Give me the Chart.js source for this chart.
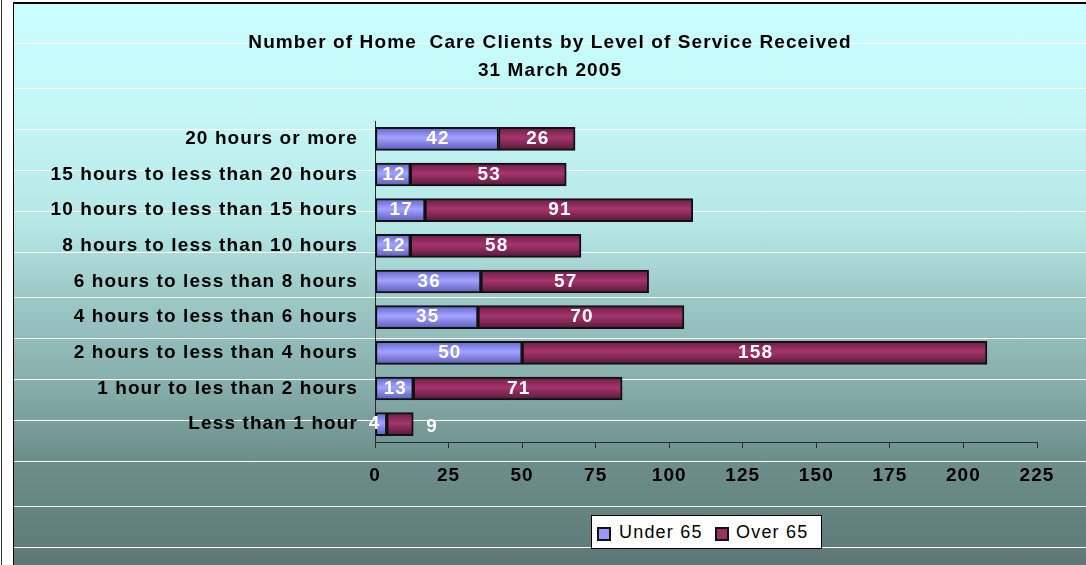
<!DOCTYPE html>
<html>
<head>
<meta charset="utf-8">
<script src="https://cdn.jsdelivr.net/npm/chart.js@4.4.0/dist/chart.umd.min.js"></script>
<style>
  body { margin: 0; background: #fff; width: 1086px; height: 565px; overflow: hidden; position: relative; font-family: "Liberation Sans", Arial, sans-serif; }
  #edge { position: absolute; left: 1px; top: 0; width: 1px; height: 565px; background: #333; }
  #panel {
    position: absolute; left: 13px; top: 2px; width: 1073px; height: 563px;
    border-left: 1px solid #000; border-top: 2px solid #000; box-sizing: border-box;
    background: linear-gradient(to bottom, #caffff 0%, #c3f6f5 20%, #b4e6e4 40%, #9cc9c6 52%, #86aeab 68%, #6e918e 80%, #5e7777 100%);
  }
  #chart { position: absolute; left: 0; top: 0; }
  #legend {
    position: absolute; left: 591px; top: 515px; width: 231px; height: 34px;
    background: #fff; border: 1px solid #000; box-sizing: border-box;
    font-size: 18px; letter-spacing: 1.2px; color: #000;
  }
  #legend .mk { position: absolute; top: 11px; width: 14px; height: 14px; border: 2px solid #111; box-sizing: border-box; }
  #legend .tx { position: absolute; top: 0; line-height: 32px; white-space: nowrap; }
</style>
</head>
<body>
<div id="edge"></div>
<div id="panel">
  <canvas id="chart" width="1072" height="561"></canvas>
</div>
<div id="legend">
  <span class="mk" style="left:5px; background:#9999ff"></span><span class="tx" style="left:27px">Under 65</span>
  <span class="mk" style="left:123px; background:#993366"></span><span class="tx" style="left:144px">Over 65</span>
</div>
<script>
const categories = [
  "20 hours or more",
  "15 hours to less than 20 hours",
  "10 hours to less than 15 hours",
  "8 hours to less than 10 hours",
  "6 hours to less than 8 hours",
  "4 hours to less than 6 hours",
  "2 hours to less than 4 hours",
  "1 hour to les than 2 hours",
  "Less than 1 hour"
];
const under65 = [42, 12, 17, 12, 36, 35, 50, 13, 4];
const over65 = [26, 53, 91, 58, 57, 70, 158, 71, 9];
const xTicks = [0, 25, 50, 75, 100, 125, 150, 175, 200, 225];

const titleLines = ["Number of Home  Care Clients by Level of Service Received", "31 March 2005"];
const font = "'Liberation Sans', Arial, sans-serif";

// white streaks across the background (page y positions)
const streaks = [43, 88, 129, 170, 211, 252, 297, 338, 379, 420, 461, 506, 547];

function barFill(c, dark, light, dark2) {
  let chart = c.chart;
  let y = chart.scales.y;
  if (!chart.chartArea || !y) return light;
  let mid = y.getPixelForValue(c.dataIndex);
  let g = chart.ctx.createLinearGradient(0, mid - 11.5, 0, mid + 11.5);
  g.addColorStop(0, dark);
  g.addColorStop(0.45, light);
  g.addColorStop(1, dark2);
  return g;
}

const spacing = {
  id: "spacing",
  beforeLayout(chart) { chart.ctx.letterSpacing = "1.1px"; },
  beforeDraw(chart) {
    let ctx = chart.ctx;
    ctx.letterSpacing = "1.1px";
    ctx.save();
    ctx.strokeStyle = "#ffffff";
    ctx.lineWidth = 1;
    streaks.forEach(function (py) {
      let y = py - 4 + 0.5;
      ctx.beginPath();
      ctx.moveTo(0, y);
      ctx.lineTo(chart.width, y);
      ctx.stroke();
    });
    ctx.restore();
  }
};

const barLabels = {
  id: "barLabels",
  afterDatasetsDraw(chart) {
    let ctx = chart.ctx;
    ctx.save();
    ctx.font = "bold 19px " + font;
    ctx.fillStyle = "#ffffff";
    ctx.textBaseline = "middle";
    chart.data.datasets.forEach(function (ds, di) {
      let meta = chart.getDatasetMeta(di);
      meta.data.forEach(function (bar, i) {
        let txt = String(ds.data[i]);
        let w = Math.abs(bar.x - bar.base);
        if (w < 30) {
          if (di === 0) {
            ctx.textAlign = "center";
            ctx.fillText(txt, bar.base - 1, bar.y);
          } else {
            ctx.textAlign = "left";
            ctx.fillText(txt, bar.x + 13, bar.y + 3);
          }
        } else {
          ctx.textAlign = "center";
          ctx.fillText(txt, (bar.x + bar.base) / 2 + 1, bar.y);
        }
      });
    });
    ctx.restore();
  }
};

new Chart(document.getElementById("chart"), {
  type: "bar",
  data: {
    labels: categories,
    datasets: [{
      label: "Under 65",
      data: under65,
      backgroundColor: function (c) { return barFill(c, "#6464c8", "#a2a2ff", "#5c5cb8"); },
      borderColor: "#111",
      borderWidth: 2,
      borderSkipped: false,
      barThickness: 23
    }, {
      label: "Over 65",
      data: over65,
      backgroundColor: function (c) { return barFill(c, "#6a1e44", "#a5346e", "#561838"); },
      borderColor: "#111",
      borderWidth: 2,
      borderSkipped: false,
      barThickness: 23
    }]
  },
  options: {
    indexAxis: "y",
    responsive: false,
    animation: false,
    layout: { padding: { left: 0, right: 0, top: 0, bottom: 73 } },
    plugins: {
      legend: { display: false },
      tooltip: { enabled: false },
      title: {
        display: true,
        text: titleLines,
        color: "#000",
        font: { family: font, size: 19, weight: "bold", lineHeight: 28 / 19 },
        padding: { top: 25, bottom: 36 }
      }
    },
    scales: {
      x: {
        stacked: true,
        min: 0,
        max: 225,
        afterBuildTicks(scale) { scale.ticks = xTicks.map(function (v) { return { value: v }; }); },
        afterFit(scale) { scale.height = 50; },
        grid: { drawOnChartArea: false, drawTicks: true, tickLength: 6, color: "#2b2b2b", lineWidth: 1 },
        border: { display: true, color: "#2b2b2b", width: 1 },
        ticks: { color: "#000", padding: 16, maxRotation: 0, font: { family: font, size: 19, weight: "bold" } }
      },
      y: {
        stacked: true,
        afterFit(scale) { scale.width = 361; },
        grid: { display: false, drawTicks: false },
        border: { display: true, color: "#2b2b2b", width: 1 },
        ticks: { color: "#000", padding: 17, font: { family: font, size: 19, weight: "bold" } }
      },
      yRight: {
        axis: "y",
        type: "category",
        position: "right",
        afterFit(scale) { scale.width = 49; },
        grid: { display: false, drawTicks: false },
        border: { display: false },
        ticks: { display: false }
      }
    }
  },
  plugins: [spacing, barLabels]
});
</script>
</body>
</html>
